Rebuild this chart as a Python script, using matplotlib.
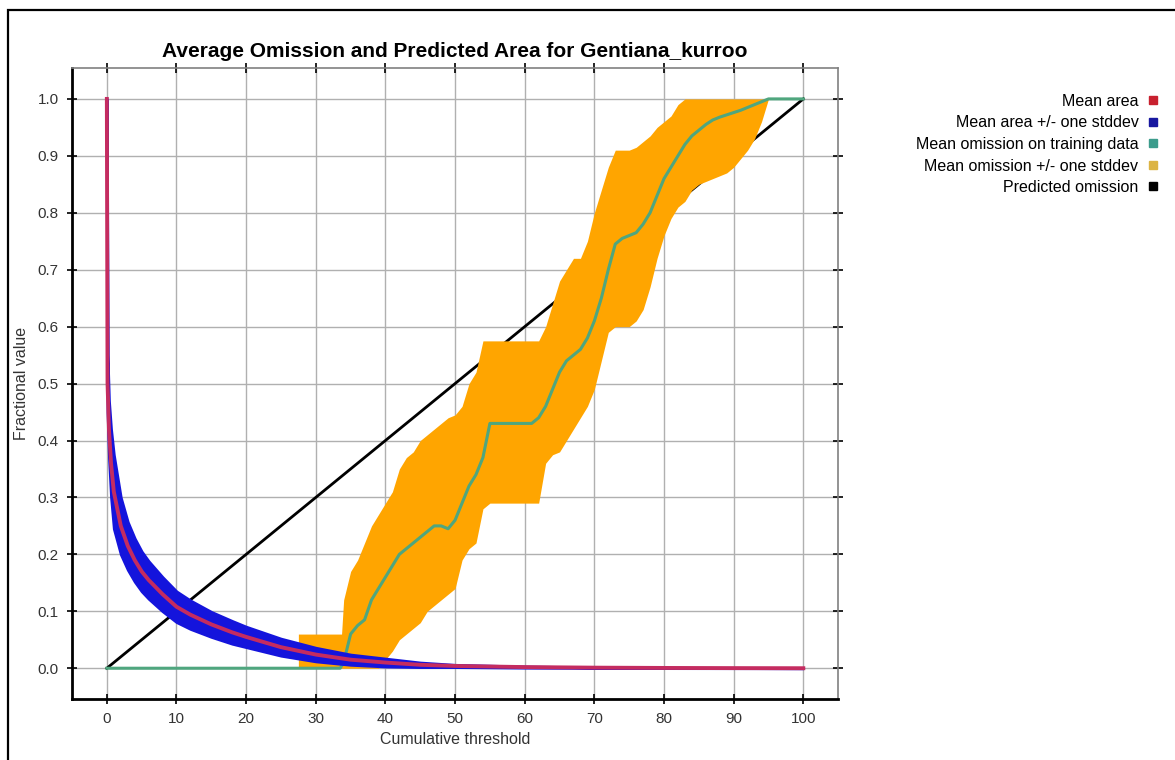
import matplotlib.pyplot as plt
from matplotlib.lines import Line2D
from matplotlib.patches import Rectangle
import numpy as np

plt.rcParams["font.family"] = ["Liberation Sans", "DejaVu Sans"]

# mean fractional predicted area and its standard deviation
area_x = [0, 0.1, 0.3, 0.6, 1, 2, 3, 4, 5, 6, 8, 10, 12, 15, 18, 20, 25, 30, 35, 40, 45, 50, 60, 70, 80, 90, 100]
area_mean = [1.0, 0.50, 0.42, 0.36, 0.31, 0.25, 0.215, 0.19, 0.17, 0.155, 0.13, 0.108, 0.094, 0.077, 0.063,
             0.055, 0.037, 0.024, 0.015, 0.01, 0.006, 0.004, 0.002, 0.001, 0.0005, 0.0002, 0.0]
area_sd = [0.0, 0.05, 0.05, 0.06, 0.065, 0.05, 0.042, 0.038, 0.035, 0.033, 0.03, 0.027, 0.025, 0.022, 0.02,
           0.018, 0.015, 0.012, 0.009, 0.007, 0.004, 0.002, 0.001, 0.0005, 0.0003, 0.0001, 0.0]

# mean omission on training data
omit_x = [0, 33.5, 34, 34.5, 35, 36, 37, 38, 39, 40, 41, 42, 43, 44, 45, 46, 47, 48, 49, 50, 51, 52, 53, 54, 55, 56,
          58, 60, 61, 62, 63, 64, 65, 66, 67, 68, 69, 70, 71, 72, 73, 74, 75, 76, 77, 78, 79, 80, 81, 82, 83, 84,
          85, 86, 87, 88, 89, 90, 91, 92, 93, 94, 95, 100]
omit_mean = [0.0, 0.0, 0.01, 0.035, 0.06, 0.075, 0.085, 0.12, 0.14, 0.16, 0.18, 0.20, 0.21, 0.22, 0.23, 0.24, 0.25,
             0.25, 0.245, 0.26, 0.29, 0.32, 0.34, 0.37, 0.43, 0.43, 0.43, 0.43, 0.43, 0.44, 0.46, 0.49, 0.52, 0.54,
             0.55, 0.56, 0.58, 0.61, 0.65, 0.70, 0.745, 0.755, 0.76, 0.765, 0.78, 0.80, 0.83, 0.86, 0.88, 0.90,
             0.92, 0.935, 0.945, 0.955, 0.963, 0.968, 0.972, 0.976, 0.98, 0.985, 0.99, 0.995, 1.0, 1.0]

# omission +/- one standard deviation
band_x = [27.5, 33.7, 34, 35, 36, 37, 38, 39, 40, 41, 42, 43, 44, 45, 46, 47, 48, 49, 50, 51, 52, 53, 54, 55, 58, 62,
          63, 64, 65, 66, 67, 68, 69, 70, 71, 72, 73, 74, 75, 76, 77, 78, 79, 80, 81, 82, 83, 84, 85, 86, 87, 88,
          89, 90, 91, 92, 93, 94, 95]
band_hi = [0.06, 0.06, 0.12, 0.17, 0.19, 0.22, 0.25, 0.27, 0.29, 0.31, 0.35, 0.37, 0.38, 0.40, 0.41, 0.42, 0.43,
           0.44, 0.445, 0.46, 0.50, 0.52, 0.575, 0.575, 0.575, 0.575, 0.60, 0.64, 0.68, 0.70, 0.72, 0.72, 0.75,
           0.80, 0.84, 0.88, 0.91, 0.91, 0.91, 0.915, 0.925, 0.935, 0.95, 0.96, 0.97, 0.99, 1.0, 1.0, 1.0, 1.0,
           1.0, 1.0, 1.0, 1.0, 1.0, 1.0, 1.0, 1.0, 1.0]
band_lo = [0, 0, 0, 0, 0, 0, 0, 0, 0.015, 0.03, 0.05, 0.06, 0.07, 0.08, 0.10, 0.11, 0.12, 0.13, 0.14, 0.19, 0.21,
           0.22, 0.28, 0.29, 0.29, 0.29, 0.36, 0.375, 0.38, 0.40, 0.42, 0.44, 0.46, 0.49, 0.54, 0.59, 0.60, 0.60,
           0.60, 0.61, 0.63, 0.67, 0.72, 0.76, 0.79, 0.81, 0.82, 0.84, 0.85, 0.855, 0.86, 0.865, 0.87, 0.88,
           0.895, 0.91, 0.93, 0.96, 1.0]

# predicted omission is the diagonal
pred_x = [0, 100]
pred_y = [0, 1]

legend_labels = ["Mean area", "Mean area +/- one stddev", "Mean omission on training data",
                 "Mean omission +/- one stddev", "Predicted omission"]
legend_colors = ["#c8202e", "#1818a0", "#3c9c8c", "#dcb444", "#000000"]

fig = plt.figure(figsize=(11.75, 7.6), dpi=100)
ax = fig.add_axes([0.0613, 0.0803, 0.652, 0.830])

ax.plot(pred_x, pred_y, color="black", lw=2, zorder=2)
ax.fill_between(band_x, band_lo, band_hi, color="#ffa500", lw=0, zorder=3)
ax.plot(omit_x, omit_mean, color="#4fa67e", lw=2.2, zorder=4)

am = np.array(area_mean)
sd = np.array(area_sd)
ax.fill_between(area_x, am - sd, am + sd, color="#1414dc", lw=2, edgecolor="#1414dc", zorder=5)
ax.plot(area_x, area_mean, color="#c42c60", lw=2.8, zorder=6)

ax.set_xlim(-5, 105)
ax.set_ylim(-0.054, 1.054)
ax.set_xticks(range(0, 101, 10))
ax.set_yticks(np.round(np.arange(0, 1.01, 0.1), 1))
ax.set_yticklabels([f"{v:.1f}" for v in np.arange(0, 1.01, 0.1)])
ax.grid(True, color="#b0b0b0", lw=1)
ax.set_axisbelow(True)
ax.tick_params(direction="inout", length=7, width=1.2, labelsize=11, labelcolor="#333333",
               top=True, right=True, pad=6)

for side in ["left", "bottom"]:
    ax.spines[side].set_linewidth(2)
    ax.spines[side].set_color("black")
for side in ["top", "right"]:
    ax.spines[side].set_linewidth(1.2)
    ax.spines[side].set_color("#808080")

ax.set_title("Average Omission and Predicted Area for Gentiana_kurroo",
             fontsize=15, fontweight="bold", pad=8)
ax.set_xlabel("Cumulative threshold", fontsize=11.5, color="#333333", labelpad=4)
ax.set_ylabel("Fractional value", fontsize=11.5, color="#333333", labelpad=6)

handles = [Line2D([], [], ls="none", marker="s", markersize=6, color=c) for c in legend_colors]
fig.legend(handles, legend_labels, loc="upper right", bbox_to_anchor=(0.992, 0.887),
           markerfirst=False, frameon=False, fontsize=11.5, labelspacing=0.41,
           handlelength=0.6, handletextpad=0.6, borderpad=0)

# outer frame
fig.add_artist(Rectangle((8 / 1175, -0.1), 1.2, 1.1 - 10 / 760, transform=fig.transFigure,
                         fill=False, ec="black", lw=1.6))

fig.savefig("out.png", dpi=100)
